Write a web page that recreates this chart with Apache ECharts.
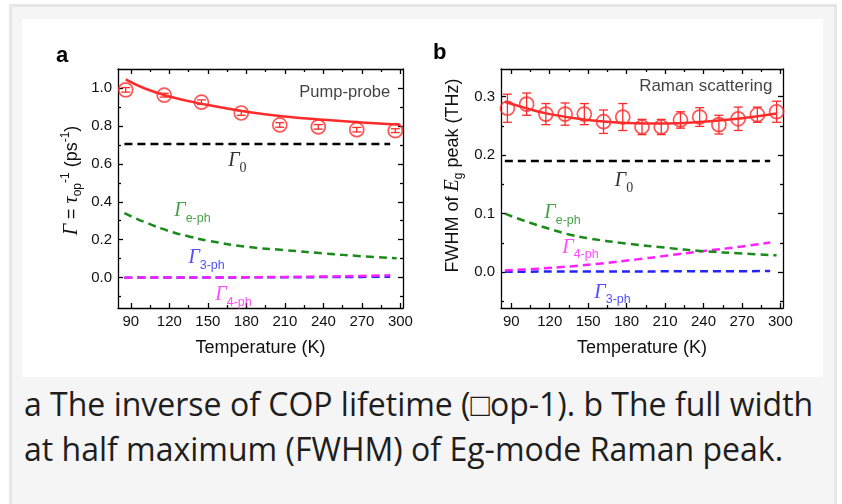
<!DOCTYPE html>
<html>
<head>
<meta charset="utf-8">
<script src="https://cdn.jsdelivr.net/npm/echarts@6/dist/echarts.min.js"></script>
<style>
  html, body { margin: 0; padding: 0; background: #fff; }
  #frame { position: absolute; left: 9px; top: 4px; width: 822px; height: 520px;
           border: 3px solid #e6e6e6; background: #f5f5f5; }
  #card { position: absolute; left: 22px; top: 19px; width: 801px; height: 358px; background: #fff; }
  #chart { position: absolute; left: 22px; top: 19px; width: 801px; height: 358px; }
  #cap { position: absolute; left: 24px; top: 381px; font-family: 'Open Sans'; font-size: 32px;
         line-height: 45px; color: #1e1e1e; white-space: nowrap; }
</style>
</head>
<body>
<div id="frame"></div>
<div id="card"></div>
<div id="chart"></div>
<div id="cap">a The inverse of COP lifetime (□op-1). b The full width<br>at half maximum (FWHM) of Eg-mode Raman peak.</div>
<script>
// ---- panel a : pump-probe ----
var tempA = [86, 116, 145, 176, 206, 236, 266, 296];
var rateA = [0.99, 0.962, 0.925, 0.868, 0.805, 0.795, 0.78, 0.775];
var errA = [0.012, 0.01, 0.012, 0.012, 0.012, 0.012, 0.012, 0.01];
var fitTempA = [86, 100, 120, 150, 180, 210, 240, 270, 300];
var fitA = [1.045, 1.0, 0.955, 0.91, 0.875, 0.85, 0.832, 0.818, 0.806];
var g0TempA = [85, 292];
var g0A = [0.705, 0.705];
var ephTempA = [85, 100, 120, 136, 150, 180, 210, 240, 270, 297];
var ephA = [0.34, 0.295, 0.245, 0.216, 0.195, 0.163, 0.145, 0.128, 0.113, 0.102];
var phTempA = [85, 120, 150, 180, 210, 240, 270, 292];
var ph3A = [0, 0.0005, 0.001, 0.0015, 0.002, 0.003, 0.004, 0.005];
var ph4A = [0, 0.0005, 0.001, 0.002, 0.004, 0.006, 0.009, 0.012];

// ---- panel b : Raman ----
var tempB = [87, 102, 117, 132, 147, 162, 177, 192, 207, 222, 237, 252, 267, 282, 297];
var fwhmB = [0.280, 0.287, 0.270, 0.270, 0.270, 0.257, 0.265, 0.248, 0.248, 0.260, 0.265, 0.252, 0.262, 0.269, 0.274];
var errB = [0.024, 0.019, 0.018, 0.019, 0.018, 0.020, 0.023, 0.013, 0.013, 0.014, 0.016, 0.016, 0.020, 0.013, 0.018];
var fitTempB = [85, 100, 120, 150, 180, 210, 240, 270, 297];
var fitB = [0.291, 0.281, 0.270, 0.260, 0.255, 0.254, 0.257, 0.263, 0.271];
var g0TempB = [85, 292];
var g0B = [0.19, 0.19];
var ephTempB = [85, 100, 120, 136, 150, 180, 210, 240, 270, 297];
var ephB = [0.1, 0.088, 0.074, 0.064, 0.058, 0.049, 0.042, 0.036, 0.032, 0.029];
var ph4TempB = [85, 110, 136, 160, 188, 210, 239, 270, 292];
var ph4B = [0.003, 0.006, 0.010, 0.015, 0.022, 0.028, 0.036, 0.044, 0.051];
var ph3TempB = [85, 150, 220, 292];
var ph3B = [0.001, 0.0013, 0.0016, 0.002];

// ticks
var xMajor = [90, 120, 150, 180, 210, 240, 270, 300];
var xMinor = [105, 135, 165, 195, 225, 255, 285];
var yMajorA = [0, 0.2, 0.4, 0.6, 0.8, 1.0];
var yMinorA = [-0.1, 0.1, 0.3, 0.5, 0.7, 0.9];
var yMajorB = [0, 0.1, 0.2, 0.3];
var yMinorB = [-0.05, 0.05, 0.15, 0.25];

// in-plot annotations [T, y, text, colour]
var notesA = [
  [173, 0.605, '{g|Γ}{z|0}', '#000'],
  [138, 0.34, '{g|Γ}{s|e-ph}', '#1a8a1a'],
  [149, 0.093, '{g|Γ}{s|3-ph}', '#2424ff'],
  [170, -0.10, '{g|Γ}{s|4-ph}', '#ff20ff']
];
var notesB = [
  [178, 0.152, '{g|Γ}{z|0}', '#000'],
  [130, 0.098, '{g|Γ}{s|e-ph}', '#1a8a1a'],
  [144, 0.039, '{g|Γ}{s|4-ph}', '#ff20ff'],
  [169, -0.038, '{g|Γ}{s|3-ph}', '#2424ff']
];

var RED = '#ff2b2b';
var FONT = 'Liberation Sans';

function zip(xs, ys, es) {
  return xs.map(function (x, i) { return es ? [x, ys[i], es[i]] : [x, ys[i]]; });
}

function axis(grid, pos, min, max, ticks, len, showLine, labels) {
  return {
    type: 'value', gridIndex: grid, position: pos, min: min, max: max,
    axisLine: { show: showLine, onZero: false, lineStyle: { color: '#000', width: 1.3 } },
    axisTick: { show: true, inside: true, length: len, customValues: ticks,
                lineStyle: { color: '#000', width: 1.3 } },
    axisLabel: labels ? {
      show: true, customValues: labels, color: '#111', fontFamily: FONT, fontSize: 15, margin: 6,
      formatter: function (v) { return pos == 'bottom' ? String(Math.round(v)) : v.toFixed(1); }
    } : { show: false },
    splitLine: { show: false }
  };
}

var rich = {
  g: { fontFamily: 'Liberation Serif', fontStyle: 'italic', fontSize: 20, lineHeight: 24, verticalAlign: 'top' },
  s: { fontFamily: FONT, fontSize: 12.5, lineHeight: 12, verticalAlign: 'bottom' },
  z: { fontFamily: 'Liberation Serif', fontSize: 14, lineHeight: 12, verticalAlign: 'bottom' }
};

var xAxes = [], yAxes = [];
[[80, 302], [82, 302]].forEach(function (r, g) {
  var bottom = axis(g, 'bottom', r[0], r[1], xMajor, 5, true, xMajor);
  bottom.name = 'Temperature (K)';
  bottom.nameLocation = 'middle';
  bottom.nameGap = 31;
  bottom.nameTextStyle = { fontFamily: FONT, fontSize: 18, color: '#111' };
  xAxes.push(bottom,
    axis(g, 'top', r[0], r[1], xMajor, 5, true),
    axis(g, 'bottom', r[0], r[1], xMinor, 3, false),
    axis(g, 'top', r[0], r[1], xMinor, 3, false));
});

var yA = axis(0, 'left', -0.16, 1.1, yMajorA, 5, true, yMajorA);
yA.name = '{g|Γ}{n| = }{g|τ}{sb|op}{sp|-1}{n| (ps}{sp|-1}{n|)}';
yA.nameLocation = 'middle';
yA.nameGap = 34;
yA.nameTextStyle = { color: '#111', fontFamily: FONT, fontSize: 18, padding: [0, 0, 0, 16], rich: {
  g: { fontFamily: 'Liberation Serif', fontStyle: 'italic', fontSize: 20, lineHeight: 24, verticalAlign: 'middle' },
  n: { fontFamily: FONT, fontSize: 18, lineHeight: 24, verticalAlign: 'middle' },
  sb: { fontFamily: FONT, fontSize: 12, lineHeight: 10, verticalAlign: 'bottom' },
  sp: { fontFamily: FONT, fontSize: 12, lineHeight: 10, verticalAlign: 'top' }
} };
var yB = axis(1, 'left', -0.061, 0.347, yMajorB, 5, true, yMajorB);
yB.name = '{n|FWHM of }{e|E}{sb|g}{n| peak (THz)}';
yB.nameLocation = 'middle';
yB.nameGap = 36;
yB.nameTextStyle = { color: '#111', fontFamily: FONT, fontSize: 18, padding: [0, 0, 0, 26], rich: {
  n: { fontFamily: FONT, fontSize: 18, lineHeight: 24, verticalAlign: 'middle' },
  e: { fontFamily: 'Liberation Serif', fontStyle: 'italic', fontSize: 20, lineHeight: 24, verticalAlign: 'middle' },
  sb: { fontFamily: FONT, fontSize: 12, lineHeight: 10, verticalAlign: 'bottom' }
} };
yAxes.push(yA,
  axis(0, 'right', -0.16, 1.1, yMajorA, 5, true),
  axis(0, 'left', -0.16, 1.1, yMinorA, 3, false),
  axis(0, 'right', -0.16, 1.1, yMinorA, 3, false),
  yB,
  axis(1, 'right', -0.061, 0.347, yMajorB, 5, true),
  axis(1, 'left', -0.061, 0.347, yMinorB, 3, false),
  axis(1, 'right', -0.061, 0.347, yMinorB, 3, false));

function dashed(ai, xs, ys, color, smooth) {
  return { type: 'line', xAxisIndex: ai, yAxisIndex: ai, data: zip(xs, ys), symbol: 'none',
           smooth: smooth, lineStyle: { color: color, width: 2.5, type: [8, 5] }, silent: true };
}

function errorBars(ai, xs, ys, es) {
  return {
    type: 'custom', xAxisIndex: ai, yAxisIndex: ai, data: zip(xs, ys, es),
    renderItem: function (params, api) {
      var x = api.value(0), y = api.value(1), e = api.value(2);
      var hi = api.coord([x, y + e]), lo = api.coord([x, y - e]);
      var st = { stroke: RED, lineWidth: 1.3 };
      return { type: 'group', children: [
        { type: 'line', shape: { x1: hi[0], y1: hi[1], x2: lo[0], y2: lo[1] }, style: st },
        { type: 'line', shape: { x1: hi[0] - 4.5, y1: hi[1], x2: hi[0] + 4.5, y2: hi[1] }, style: st },
        { type: 'line', shape: { x1: lo[0] - 4.5, y1: lo[1], x2: lo[0] + 4.5, y2: lo[1] }, style: st }
      ] };
    }
  };
}

function circles(ai, xs, ys) {
  return { type: 'scatter', xAxisIndex: ai, yAxisIndex: ai, data: zip(xs, ys), symbol: 'circle',
           symbolSize: 14, itemStyle: { color: 'rgba(255,255,255,0)', borderColor: RED, borderWidth: 1.7 } };
}

function fit(ai, xs, ys) {
  return { type: 'line', xAxisIndex: ai, yAxisIndex: ai, data: zip(xs, ys), symbol: 'none',
           smooth: true, lineStyle: { color: RED, width: 2.5 }, z: 3 };
}

function notes(ai, list) {
  var data = list.map(function (n) {
    return { value: [n[0], n[1]], label: { formatter: n[2], color: n[3] } };
  });
  return { type: 'scatter', xAxisIndex: ai, yAxisIndex: ai, symbolSize: 0, data: data, silent: true,
           label: { show: true, position: 'inside', fontFamily: FONT, fontSize: 15, rich: rich }, z: 5 };
}

function tag(ai, x, y, text, size) {
  return { type: 'scatter', xAxisIndex: ai, yAxisIndex: ai, symbolSize: 0, data: [[x, y]], silent: true,
           label: { show: true, position: 'left', distance: 0, formatter: text,
                    fontFamily: FONT, fontSize: size, color: '#111' } };
}

var chart = echarts.init(document.getElementById('chart'));
chart.setOption({
  animation: false,
  grid: [
    { left: 96, top: 50, width: 285, height: 239, outerBoundsMode: 'none' },
    { left: 479, top: 50, width: 282, height: 239, outerBoundsMode: 'none' }
  ],
  xAxis: xAxes,
  yAxis: yAxes,
  graphic: [
    { type: 'text', left: 34, top: 26, style: { text: 'a', font: 'bold 22px Liberation Sans', fill: '#000' } },
    { type: 'text', left: 411, top: 23, style: { text: 'b', font: 'bold 22px Liberation Sans', fill: '#000' } }
  ],
  series: [
    dashed(0, phTempA, ph3A, '#2424ff', true),
    dashed(0, phTempA, ph4A, '#ff20ff', true),
    dashed(0, ephTempA, ephA, '#1a8a1a', true),
    dashed(0, g0TempA, g0A, '#000', false),
    errorBars(0, tempA, rateA, errA),
    circles(0, tempA, rateA),
    fit(0, fitTempA, fitA),
    notes(0, notesA),
    tag(0, 292, 0.977, 'Pump-probe', 16.5),

    dashed(4, ph3TempB, ph3B, '#2424ff', true),
    dashed(4, ph4TempB, ph4B, '#ff20ff', true),
    dashed(4, ephTempB, ephB, '#1a8a1a', true),
    dashed(4, g0TempB, g0B, '#000', false),
    errorBars(4, tempB, fwhmB, errB),
    circles(4, tempB, fwhmB),
    fit(4, fitTempB, fitB),
    notes(4, notesB),
    tag(4, 293.7, 0.317, 'Raman scattering', 17)
  ]
});
</script>
</body>
</html>
